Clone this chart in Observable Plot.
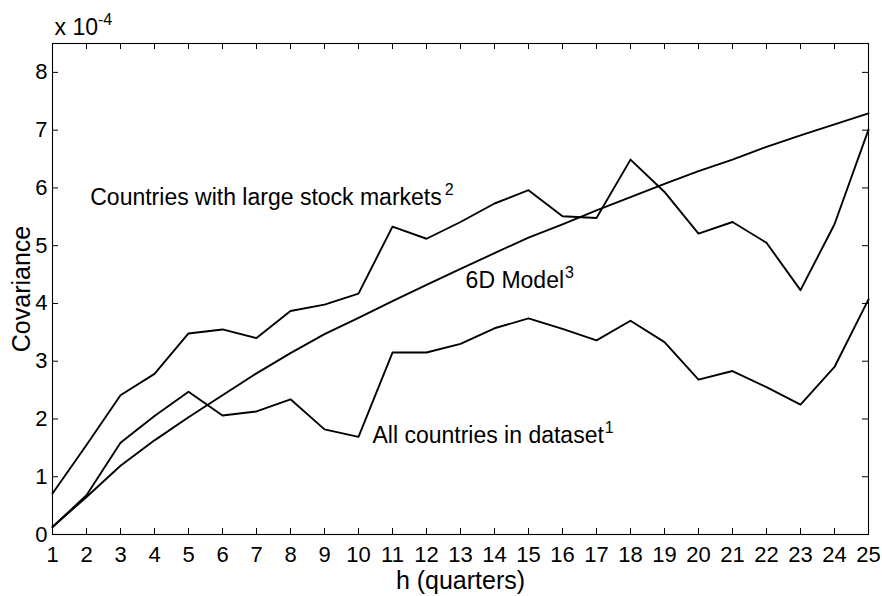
<!DOCTYPE html>
<html>
<head>
<meta charset="utf-8">
<script src="https://cdn.jsdelivr.net/npm/d3@7"></script>
<script src="https://cdn.jsdelivr.net/npm/@observablehq/plot@0.6"></script>
<style>
  html, body { margin: 0; padding: 0; background: #fff; }
  #chart { width: 882px; height: 596px; }
</style>
</head>
<body>
<div id="chart"></div>
<script>
// Horizon h (quarters)
const quarters = [1,2,3,4,5,6,7,8,9,10,11,12,13,14,15,16,17,18,19,20,21,22,23,24,25];
// Covariance values, in units of 1e-4
const largeMarkets = [0.71,1.55,2.41,2.78,3.48,3.55,3.40,3.87,3.98,4.17,5.33,5.12,5.41,5.73,5.96,5.51,5.48,6.49,5.93,5.21,5.41,5.05,4.23,5.37,7.01];
const allCountries = [0.13,0.68,1.59,2.05,2.47,2.06,2.13,2.34,1.82,1.69,3.15,3.15,3.30,3.57,3.74,3.56,3.36,3.70,3.33,2.68,2.83,2.55,2.25,2.90,4.07];
const model6D = [0.13,0.65,1.19,1.63,2.03,2.41,2.79,3.14,3.47,3.75,4.04,4.32,4.60,4.87,5.14,5.37,5.61,5.84,6.07,6.29,6.49,6.71,6.91,7.10,7.29];
const yTicks = [0,1,2,3,4,5,6,7,8];
const xTicks = quarters;

// Annotation labels (position in data units, superscript note)
const labels = [
  {text: "Countries with large stock markets", sup: "2", x: 2.11, y: 5.70},
  {text: "6D Model", sup: "3", x: 13.15, y: 4.26},
  {text: "All countries in dataset", sup: "1", x: 10.41, y: 1.58}
];

const series = [
  {name: "large", values: largeMarkets},
  {name: "all", values: allCountries},
  {name: "model", values: model6D}
];
const rows = series.flatMap(s => s.values.map((v, i) => ({series: s.name, h: quarters[i], v})));

const W = 882, H = 596, mL = 52, mR = 14, mT = 43, mB = 62;
const fw = W - mL - mR, fh = H - mT - mB;
const font = "'Liberation Sans', Arial, Helvetica, sans-serif";

const svg = Plot.plot({
  width: W, height: H,
  marginLeft: mL, marginRight: mR, marginTop: mT, marginBottom: mB,
  style: {fontFamily: font, fontSize: "22px", color: "black", background: "white", overflow: "visible"},
  x: {domain: [1, 25]},
  y: {domain: [0, 8.5]},
  marks: [
    Plot.line(rows, {x: "h", y: "v", z: "series", stroke: "black", strokeWidth: 1.9}),
    Plot.frame({stroke: "black", strokeWidth: 1.1}),
    Plot.tickX(xTicks, {x: d => d, insetTop: fh - 6, stroke: "black", strokeWidth: 1}),
    Plot.tickX(xTicks, {x: d => d, insetBottom: fh - 6, stroke: "black", strokeWidth: 1}),
    Plot.tickY(yTicks, {y: d => d, insetRight: fw - 6, stroke: "black", strokeWidth: 1}),
    Plot.tickY(yTicks, {y: d => d, insetLeft: fw - 6, stroke: "black", strokeWidth: 1}),
    Plot.axisX(xTicks, {tickSize: 0, tickPadding: 12, fontSize: 22, label: null, tickFormat: d => String(d)}),
    Plot.axisY(yTicks, {tickSize: 0, tickPadding: 5, fontSize: 22, label: null, tickFormat: d => String(d)}),
    Plot.text(labels, {x: "x", y: "y", text: "text", textAnchor: "start", lineAnchor: "bottom", fontSize: 23, fill: "black", className: "annot"}),
    Plot.text(["h (quarters)"], {frameAnchor: "bottom", textAnchor: "middle", dy: 54, lineAnchor: "bottom", fontSize: 25, fill: "black"}),
    Plot.text(["Covariance"], {frameAnchor: "left", textAnchor: "middle", dx: -23, rotate: -90, lineAnchor: "bottom", fontSize: 25, fill: "black"}),
    Plot.text(["x 10"], {frameAnchor: "top-left", dx: 2, dy: -9, textAnchor: "start", lineAnchor: "bottom", fontSize: 23, fill: "black", className: "mult"})
  ]
});

// Superscripts
d3.select(svg).selectAll("g.annot text").each(function(d, i) {
  const lab = labels[i];
  d3.select(this).append("tspan")
    .attr("dx", lab.sup === "2" ? 3 : 1)
    .attr("dy", -10)
    .attr("font-size", 16)
    .text(lab.sup);
});
d3.select(svg).selectAll("g.mult text").each(function() {
  d3.select(this).append("tspan")
    .attr("dy", -10)
    .attr("font-size", 16)
    .text("-4");
});

document.getElementById("chart").appendChild(svg);
</script>
</body>
</html>
